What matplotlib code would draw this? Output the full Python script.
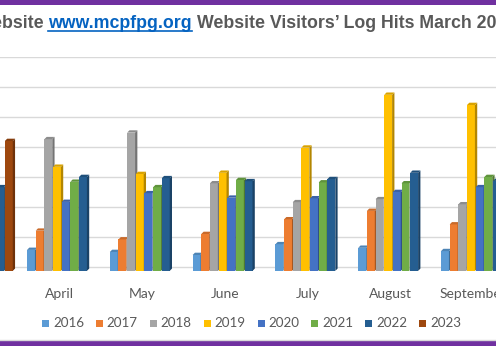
import numpy as np
import matplotlib
matplotlib.use("Agg")
import matplotlib.pyplot as plt
from matplotlib.patches import Polygon, Rectangle
from matplotlib.lines import Line2D
import matplotlib.transforms as mtransforms

# Monthly log hits (units of one gridline step); NaN = no bar in that slot
months = ["March", "April", "May", "June", "July", "August", "September"]
years = ["2016", "2017", "2018", "2019", "2020", "2021", "2022", "2023"]
colors = ["#5B9BD5", "#ED7D31", "#A5A5A5", "#FFC000",
          "#4472C4", "#70AD47", "#255E91", "#9E480E"]

hits_2016 = [np.nan, 0.58, 0.51, 0.41, 0.77, 0.65, 0.54]
hits_2017 = [np.nan, 1.22, 0.93, 1.11, 1.60, 1.88, 1.43]
hits_2018 = [np.nan, 4.27, 4.49, 2.80, 2.17, 2.27, 2.10]
hits_2019 = [np.nan, 3.35, 3.11, 3.15, 3.99, 5.75, 5.41]
hits_2020 = [np.nan, 2.18, 2.47, 2.32, 2.30, 2.51, 2.67]
hits_2021 = [np.nan, 2.85, 2.67, 2.91, 2.83, 2.80, 3.01]
hits_2022 = [2.67, 3.01, 2.97, 2.87, 2.94, 3.15, 2.88]
hits_2023 = [4.21, np.nan, np.nan, np.nan, np.nan, np.nan, np.nan]
series = [hits_2016, hits_2017, hits_2018, hits_2019,
          hits_2020, hits_2021, hits_2022, hits_2023]

W, H = 496, 346
fig = plt.figure(figsize=(W / 100, H / 100), dpi=100)
fig.patch.set_facecolor("white")

TEXT_GREY = "#595959"
LINK_BLUE = "#0563C1"
PURPLE = "#7030A0"

# plot area (wider than the canvas on both sides)
y_bot_px, y_top_px = 271.8, 57.3
ax = fig.add_axes([0, (H - y_bot_px) / H, 1, (y_bot_px - y_top_px) / H])
ax.set_yticks(range(0, 8))
ax.yaxis.grid(True, color="#D9D9D9", lw=1.0)
ax.set_axisbelow(True)
for s in ax.spines.values():
    s.set_visible(False)
ax.tick_params(left=False, labelleft=False, bottom=False, pad=8.3)
ax.patch.set_alpha(0)

def shade(c, f):
    r, g, b = matplotlib.colors.to_rgb(c)
    return (r * f, g * f, b * f)

x = np.arange(len(months))
slot = 0.1046
front = 0.0954
dx, dy = 0.0278, 0.077
base = -0.12
for i, (vals, c) in enumerate(zip(series, colors)):
    v = np.asarray(vals, float)
    xs = x + (i - 3.5) * slot
    ok = ~np.isnan(v)
    ax.bar(xs[ok], v[ok] - base, bottom=base, width=front, color=c,
           linewidth=0, zorder=3 + 2 * i)
    for xc, val in zip(xs[ok], v[ok]):
        xl, xr = xc - front / 2, xc + front / 2
        side = [(xr, base), (xr + dx, base + dy), (xr + dx, val + dy), (xr, val)]
        top = [(xl, val), (xr, val), (xr + dx, val + dy), (xl + dx, val + dy)]
        ax.add_patch(Polygon(side, closed=True, color=shade(c, 0.70), lw=0,
                             zorder=4 + 2 * i))
        ax.add_patch(Polygon(top, closed=True, color=shade(c, 0.85), lw=0,
                             zorder=4 + 2 * i))

ax.set_xticks(x, months, fontsize=10, color=TEXT_GREY, family="Lato")
shift = mtransforms.ScaledTranslation(-2 / 100, 0, fig.dpi_scale_trans)
for lab in ax.get_xticklabels():
    lab.set_transform(lab.get_transform() + shift)
ax.set_xlim(0.2597, 6.25)
ax.set_ylim(-0.15, 7)

# legend row
leg_y = 323.0
for k, (yr, c) in enumerate(zip(years, colors)):
    x0 = 41.7 + k * 53.95
    fig.add_artist(Rectangle((x0 / W, (H - leg_y - 3.5) / H), 7 / W, 7 / H,
                             transform=fig.transFigure, color=c, lw=0))
    fig.text((x0 + 11.2) / W, (H - leg_y) / H, yr, va="center", ha="left",
             fontsize=9.6, color=TEXT_GREY, family="Lato")

# frame bands and border line
fig.add_artist(Rectangle((0, (H - 4.8) / H), 1, 4.8 / H,
                         transform=fig.transFigure, color=PURPLE, lw=0))
fig.add_artist(Rectangle((0, 0), 1, 5.5 / H,
                         transform=fig.transFigure, color=PURPLE, lw=0))
fig.add_artist(Line2D([0, 1], [(H - 339.5) / H] * 2, transform=fig.transFigure,
                      color="#D9D9D9", lw=1))

# title: grey text with an underlined blue link
tsize = 12.8
tfont = dict(fontsize=tsize, fontweight="bold", family="Liberation Sans")
base_y = (H - 28.5) / H
link = fig.text(48.3 / W, base_y, "www.mcpfpg.org", color=LINK_BLUE,
                va="baseline", ha="left", **tfont)
space_px = tsize / 72 * 100 * 0.278
fig.canvas.draw()
lb = link.get_window_extent()
fig.text((lb.x0 - space_px) / W, base_y, "MCPFPG Website", color=TEXT_GREY,
         va="baseline", ha="right", **tfont)
fig.text((lb.x1 + space_px) / W, base_y,
         "Website Visitors\u2019 Log Hits March 2016 \u2013 2023",
         color=TEXT_GREY, va="baseline", ha="left", **tfont)
ul_y = (H - 28.5 - 2.2) / H
fig.add_artist(Line2D([lb.x0 / W, lb.x1 / W], [ul_y, ul_y],
                      transform=fig.transFigure, color=LINK_BLUE, lw=1.2))

fig.savefig("out.png", dpi=100)
